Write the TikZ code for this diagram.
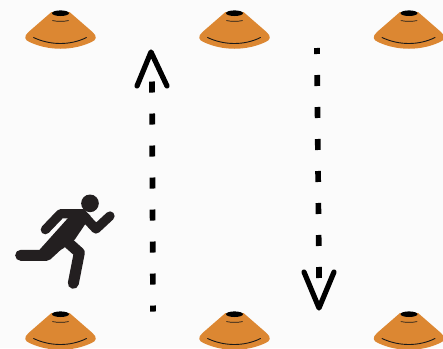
\documentclass[tikz,border=0pt]{standalone}
\tikzset{
  conefill/.style={fill=coneorange,draw=none},
  conering/.style={draw=black!90,line width=0.9pt,line cap=round},
  trail/.style={line width=5.7pt,draw=black,dash pattern=on 11pt off 21pt,dash phase=5pt},
  tiplines/.style={line width=5.2pt,draw=black,line cap=round,line join=round},
  limb/.style={draw=runnerblack,line cap=round,line join=round},
  pics/cone/.style={code={
    \path[conefill] (-9,-1) -- (-32,19) .. controls (-37,23.5) and (-36,27) .. (-31,29)
      .. controls (-12,38) and (12,38) .. (31,29)
      .. controls (36,27) and (37,23.5) .. (32,19) -- (9,-1) -- cycle;
    \fill[black] (0,0.2) ellipse (8.5 and 2.8);
    \draw[conering,line width=0.7pt] (-8,7.6) .. controls (-3,8.6) and (3,8.6) .. (8,7.6);
    \draw[conering] (-27,24.5) .. controls (-10,32.5) and (10,32.5) .. (26,24.5);
  }}
}
\definecolor{coneorange}{HTML}{DC8732}
\definecolor{runnerblack}{HTML}{231F20}
\definecolor{paper}{HTML}{FBFBFB}
\begin{document}
\begin{tikzpicture}[x=1pt,y=-1pt]
\useasboundingbox (0,0) rectangle (443,348);
\fill[paper] (0,0) rectangle (443,348);
\foreach \cx in {60.5,234.5,409} {
  \pic at (\cx,13) {cone};
  \pic at (\cx,314) {cone};
}
% left path, going up
\coordinate (la) at (153,311.5);
\coordinate (lb) at (152,80);
\coordinate (ltip) at (151,52);
\coordinate (ll) at (137,86);
\coordinate (lr) at (167,86);
\draw[trail] (la) -- (lb);
\draw[tiplines] (ll) -- (ltip) -- (lr);
% right path, going down
\coordinate (ra) at (317,48);
\coordinate (rb) at (319,279);
\coordinate (rtip) at (319,308);
\coordinate (rl) at (304,272);
\coordinate (rr) at (334,272);
\draw[trail] (ra) -- (rb);
\draw[tiplines] (rl) -- (rtip) -- (rr);
% runner
\begin{scope}[shift={(0,180)},x=0.3333pt,y=-0.3333pt]
  \fill[runnerblack] (270,70) circle (26.5);
  \fill[runnerblack] (205,88) -- (250,87) -- (272,108) -- (225,178) -- (190,205) -- (140,232) -- (118,210) -- (205,113) -- cycle;
  \draw[limb,line width=9.3pt] (136,149) -- (182,101) -- (245,101) -- (288,147) -- (330,108);
  \draw[limb,line width=11pt] (62,226) -- (140,226) -- (190,180);
  \draw[limb,line width=11pt] (190,175) -- (238,218) -- (220,310);
\end{scope}
\end{tikzpicture}
\end{document}
